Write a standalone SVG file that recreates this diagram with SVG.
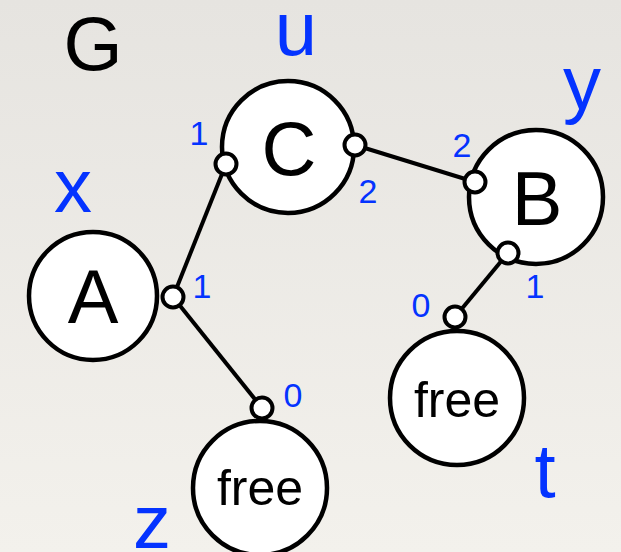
<svg xmlns="http://www.w3.org/2000/svg" width="621" height="552" viewBox="0 0 621 552">
  <defs>
    <linearGradient id="bg" x1="0" y1="0" x2="0" y2="1">
      <stop offset="0" stop-color="#e6e4e0"/>
      <stop offset="1" stop-color="#f3f1ec"/>
    </linearGradient>
    <style>
      .node { fill: #ffffff; stroke: #000000; stroke-width: 4.5; }
      .port { fill: #ffffff; stroke: #000000; stroke-width: 4; }
      .edge { stroke: #000000; stroke-width: 4; fill: none; }
      .name { font-family: "Liberation Sans", Arial, sans-serif; font-size: 76px; fill: #000000; text-anchor: middle; }
      .free { font-family: "Liberation Sans", Arial, sans-serif; font-size: 50px; fill: #000000; text-anchor: middle; }
      .var { font-family: "Liberation Sans", Arial, sans-serif; font-size: 76px; fill: #0433ff; text-anchor: middle; }
      .idx { font-family: "Liberation Sans", Arial, sans-serif; font-size: 34px; fill: #0433ff; text-anchor: middle; }
    </style>
  </defs>

  <rect x="0" y="0" width="621" height="552" fill="url(#bg)"/>

  <text id="graph-name" class="name" x="93" y="70">G</text>

  <!-- node bodies -->
  <g id="node-A">
    <circle class="node" cx="93" cy="296" r="64"/>
    <text class="name" x="93" y="323">A</text>
    <text class="var" x="73" y="212">x</text>
  </g>
  <g id="node-C">
    <circle class="node" cx="288" cy="147" r="66"/>
    <text class="name" x="289" y="175">C</text>
    <text class="var" x="296" y="55">u</text>
  </g>
  <g id="node-B">
    <circle class="node" cx="536" cy="197" r="67"/>
    <text class="name" x="537" y="225">B</text>
    <text class="var" x="582" y="109">y</text>
  </g>
  <g id="node-free-z">
    <circle class="node" cx="260" cy="488" r="67"/>
    <text class="free" x="260" y="505">free</text>
    <text class="var" x="152" y="548">z</text>
  </g>
  <g id="node-free-t">
    <circle class="node" cx="457" cy="398" r="67"/>
    <text class="free" x="457" y="417">free</text>
    <text class="var" x="545" y="497">t</text>
  </g>

  <!-- wires between ports -->
  <g id="connectors">
    <line class="edge" x1="173" y1="297" x2="226" y2="164"/>
    <line class="edge" x1="173" y1="297" x2="262" y2="408"/>
    <line class="edge" x1="355" y1="145" x2="475" y2="182"/>
    <line class="edge" x1="508" y1="253" x2="455" y2="317"/>
  </g>

  <!-- ports with their indices -->
  <g id="ports">
    <circle class="port" cx="173" cy="297" r="10.5"/>
    <text class="idx" x="202" y="298">1</text>
    <circle class="port" cx="226" cy="164" r="10.5"/>
    <text class="idx" x="199" y="145">1</text>
    <circle class="port" cx="355" cy="145" r="10.5"/>
    <text class="idx" x="368" y="203">2</text>
    <circle class="port" cx="475" cy="182" r="10.5"/>
    <text class="idx" x="462" y="157">2</text>
    <circle class="port" cx="508" cy="253" r="10.5"/>
    <text class="idx" x="535" y="298">1</text>
    <circle class="port" cx="455" cy="317" r="10.5"/>
    <text class="idx" x="421" y="317">0</text>
    <circle class="port" cx="262" cy="408" r="10.5"/>
    <text class="idx" x="293" y="407">0</text>
  </g>
</svg>
